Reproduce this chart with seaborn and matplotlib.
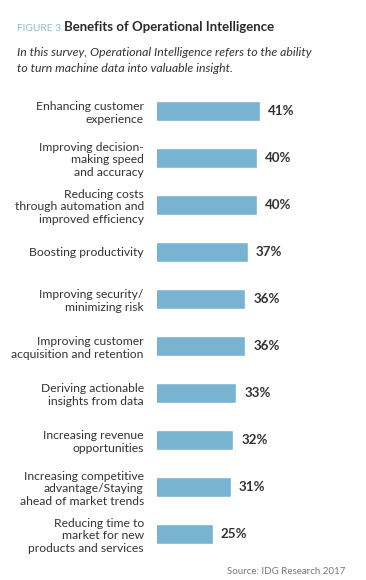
import matplotlib
matplotlib.use("Agg")
import matplotlib.pyplot as plt
import seaborn as sns
import pandas as pd

categories = [
    "Enhancing customer\nexperience",
    "Improving decision-\nmaking speed\nand accuracy",
    "Reducing costs\nthrough automation and\nimproved efficiency",
    "Boosting productivity",
    "Improving security/\nminimizing risk",
    "Improving customer\nacquisition and retention",
    "Deriving actionable\ninsights from data",
    "Increasing revenue\nopportunities",
    "Increasing competitive\nadvantage/Staying\nahead of market trends",
    "Reducing time to\nmarket for new\nproducts and services",
]
values = [41, 40, 40, 37, 36, 36, 33, 32, 31, 25]
value_labels = ["41%", "40%", "40%", "37%", "36%", "36%", "33%", "32%", "31%", "25%"]

df = pd.DataFrame({"category": categories, "value": values})

sns.set_theme(style="white")
plt.rcParams['font.family'] = ['Lato', 'DejaVu Sans']

W, H = 366, 580
fig = plt.figure(figsize=(W / 100, H / 100), dpi=100)
ax_left, ax_right = 157, 350
ax_top, ax_bottom = 87.5, 557.5
ax = fig.add_axes([ax_left / W, 1 - ax_bottom / H, (ax_right - ax_left) / W, (ax_bottom - ax_top) / H])

sns.barplot(data=df, x="value", y="category", orient="h", color="#78b4d2",
            width=0.43, saturation=1, ax=ax)

px_per_unit = 2.94
x0 = 6
ax.set_xlim(x0, x0 + (ax_right - ax_left) / px_per_unit)
ax.set_ylim(9.5, -0.5)

for i, (v, lab) in enumerate(zip(values, value_labels)):
    ax.text(v + 2.7, i, lab, va="center", ha="left", fontsize=9.6,
            fontweight="bold", color="#333333")

ax.set_xlabel("")
ax.set_ylabel("")
ax.set_xticks([])
ax.tick_params(axis="y", length=0, pad=9.5, labelsize=8.7, labelcolor="#333333")
for s in ax.spines.values():
    s.set_visible(False)

fig.text(17 / W, 1 - 31 / H, "FIGURE 3.", fontsize=7.4, color="#8fbcd0",
         va="baseline", ha="left")
fig.text(64 / W, 1 - 31 / H, "Benefits of Operational Intelligence", fontsize=9.5,
         fontweight="bold", color="#2a2a2a", va="baseline", ha="left")
fig.text(17 / W, 1 - 52 / H, "In this survey, Operational Intelligence refers to the ability",
         fontsize=8.8, style="italic", color="#333333", va="center", ha="left")
fig.text(17 / W, 1 - 68 / H, "to turn machine data into valuable insight.",
         fontsize=8.8, style="italic", color="#333333", va="center", ha="left")
fig.text(345 / W, 1 - 571 / H, "Source: IDG Research 2017", fontsize=7, color="#777777",
         va="center", ha="right")

fig.savefig("out.png", dpi=100, facecolor="white")
